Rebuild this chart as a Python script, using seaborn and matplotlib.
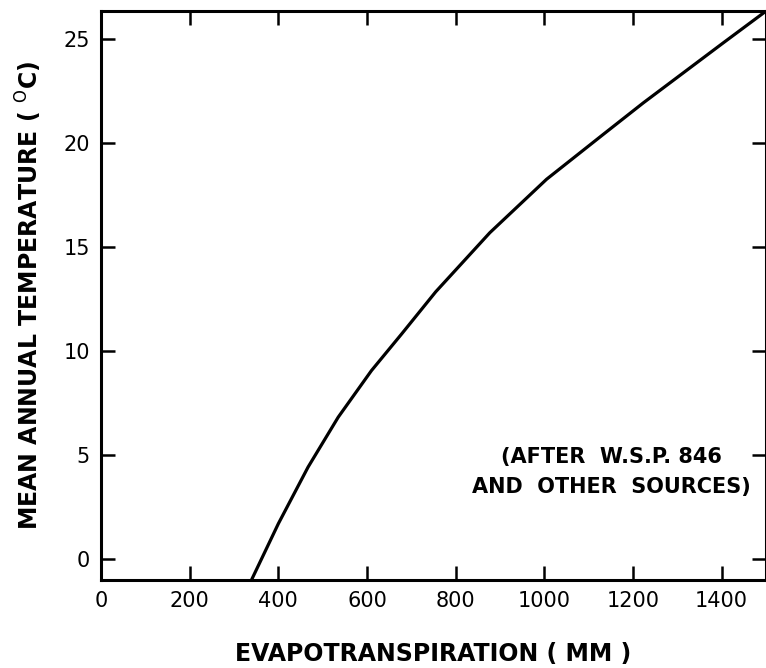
import numpy as np
import pandas as pd
import matplotlib
matplotlib.use("Agg")
import matplotlib.pyplot as plt
import seaborn as sns

# values (evapotranspiration mm vs mean annual temperature C)
evap_mm = [340, 400, 467, 535, 610, 678, 755, 877, 1005, 1133, 1223, 1328, 1403, 1499]
temp_c = [-0.97, 1.71, 4.43, 6.83, 9.07, 10.83, 12.86, 15.7, 18.27, 20.43, 21.94, 23.62, 24.82, 26.34]

x_ticks = [0, 200, 400, 600, 800, 1000, 1200, 1400]
y_ticks = [0, 5, 10, 15, 20, 25]

df = pd.DataFrame({"evap": evap_mm, "temp": temp_c})

sns.set_style("white")
plt.rcParams['font.family'] = ['DejaVu Sans']
plt.rcParams['xtick.direction'] = 'in'
plt.rcParams['ytick.direction'] = 'in'

fig = plt.figure(figsize=(7.66, 6.68), dpi=100)
ax = fig.add_axes([0.1319, 0.1317, 0.8681, 0.8518])

sns.lineplot(data=df, x="evap", y="temp", sort=False, color="black", linewidth=2.3, ax=ax)

ax.set_xlim(0, 1500)
ax.set_ylim(-1.0, 26.36)
ax.set_xticks(x_ticks)
ax.set_yticks(y_ticks)
ax.tick_params(axis="both", which="major", direction="in", length=10, width=1.8,
               labelsize=15, colors="black", top=True, right=True,
               bottom=True, left=True, pad=8)
for s in ax.spines.values():
    s.set_linewidth(2.2)
    s.set_color("black")
    s.set_visible(True)

ax.set_xlabel("EVAPOTRANSPIRATION ( MM )", fontsize=17, fontweight="bold",
              color="black", labelpad=22)
ax.set_ylabel("MEAN ANNUAL TEMPERATURE ( $^{\\mathrm{O}}$C)", fontsize=17,
              fontweight="bold", color="black", labelpad=14)

ax.text(1152, 4.2, "(AFTER  W.S.P. 846\nAND  OTHER  SOURCES)", fontsize=15,
        fontweight="bold", color="black", ha="center", va="center", linespacing=1.6)

fig.savefig("out.png", dpi=100)
